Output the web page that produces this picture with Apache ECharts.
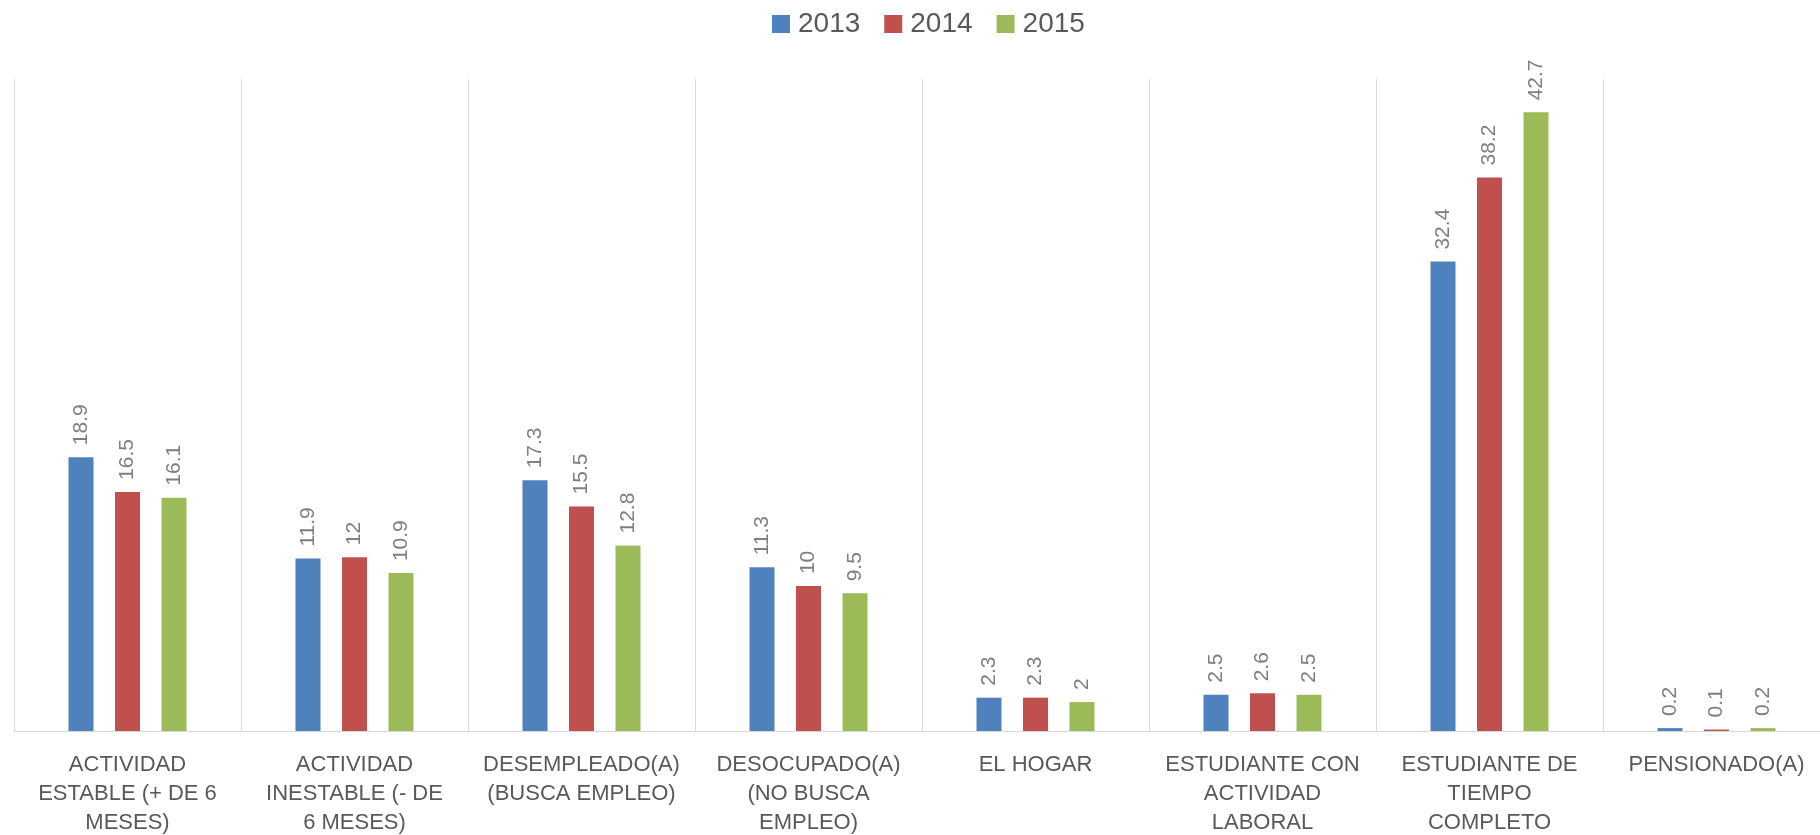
<!DOCTYPE html>
<html>
<head>
<meta charset="utf-8">
<script src="https://cdn.jsdelivr.net/npm/echarts@6/dist/echarts.min.js"></script>
<style>
  html, body { margin: 0; padding: 0; background: #fff; }
  #main { width: 1820px; height: 835px; }
</style>
</head>
<body>
<div id="main"></div>
<script>
var years = ['2013', '2014', '2015'];
var categories = [
  'ACTIVIDAD\nESTABLE (+ DE 6\nMESES)',
  'ACTIVIDAD\nINESTABLE (- DE\n6 MESES)',
  'DESEMPLEADO(A)\n(BUSCA EMPLEO)',
  'DESOCUPADO(A)\n(NO BUSCA\nEMPLEO)',
  'EL HOGAR',
  'ESTUDIANTE CON\nACTIVIDAD\nLABORAL',
  'ESTUDIANTE DE\nTIEMPO\nCOMPLETO',
  'PENSIONADO(A)'
];
var v2013 = [18.9, 11.9, 17.3, 11.3, 2.3, 2.5, 32.4, 0.2];
var v2014 = [16.5, 12, 15.5, 10, 2.3, 2.6, 38.2, 0.1];
var v2015 = [16.1, 10.9, 12.8, 9.5, 2, 2.5, 42.7, 0.2];
var colors = ['#4f81bd', '#c0504d', '#9bbb59'];

function barSeries(name, data) {
  return {
    name: name,
    type: 'bar',
    data: data,
    barWidth: 25,
    barGap: '86%',
    label: {
      show: true,
      position: 'top',
      rotate: 90,
      align: 'left',
      verticalAlign: 'middle',
      distance: 12,
      color: '#7f7f7f',
      fontFamily: 'Liberation Sans',
      fontSize: 21
    }
  };
}

var option = {
  color: colors,
  animation: false,
  legend: {
    data: years,
    left: 767,
    top: 5,
    icon: 'rect',
    itemWidth: 18,
    itemHeight: 18,
    itemGap: 24,
    textStyle: {
      color: '#595959',
      fontFamily: 'Liberation Sans',
      fontSize: 28,
      padding: [0, 0, 0, 3]
    }
  },
  grid: {
    left: 14,
    right: -10,
    top: 79,
    bottom: 104,
    containLabel: false,
    outerBoundsMode: 'none'
  },
  xAxis: {
    type: 'category',
    data: categories,
    axisLine: { lineStyle: { color: '#d9d9d9', width: 1 } },
    axisTick: { show: false },
    splitLine: { show: true, lineStyle: { color: '#d9d9d9', width: 1 } },
    axisLabel: {
      interval: 0,
      margin: 19,
      color: '#595959',
      fontFamily: 'Liberation Sans',
      fontSize: 22,
      lineHeight: 29
    }
  },
  yAxis: {
    type: 'value',
    min: 0,
    max: 45,
    interval: 5,
    show: false,
    splitLine: { show: false }
  },
  series: [
    barSeries(years[0], v2013),
    barSeries(years[1], v2014),
    barSeries(years[2], v2015)
  ]
};

var myChart = echarts.init(document.getElementById('main'));
myChart.setOption(option);
</script>
</body>
</html>
